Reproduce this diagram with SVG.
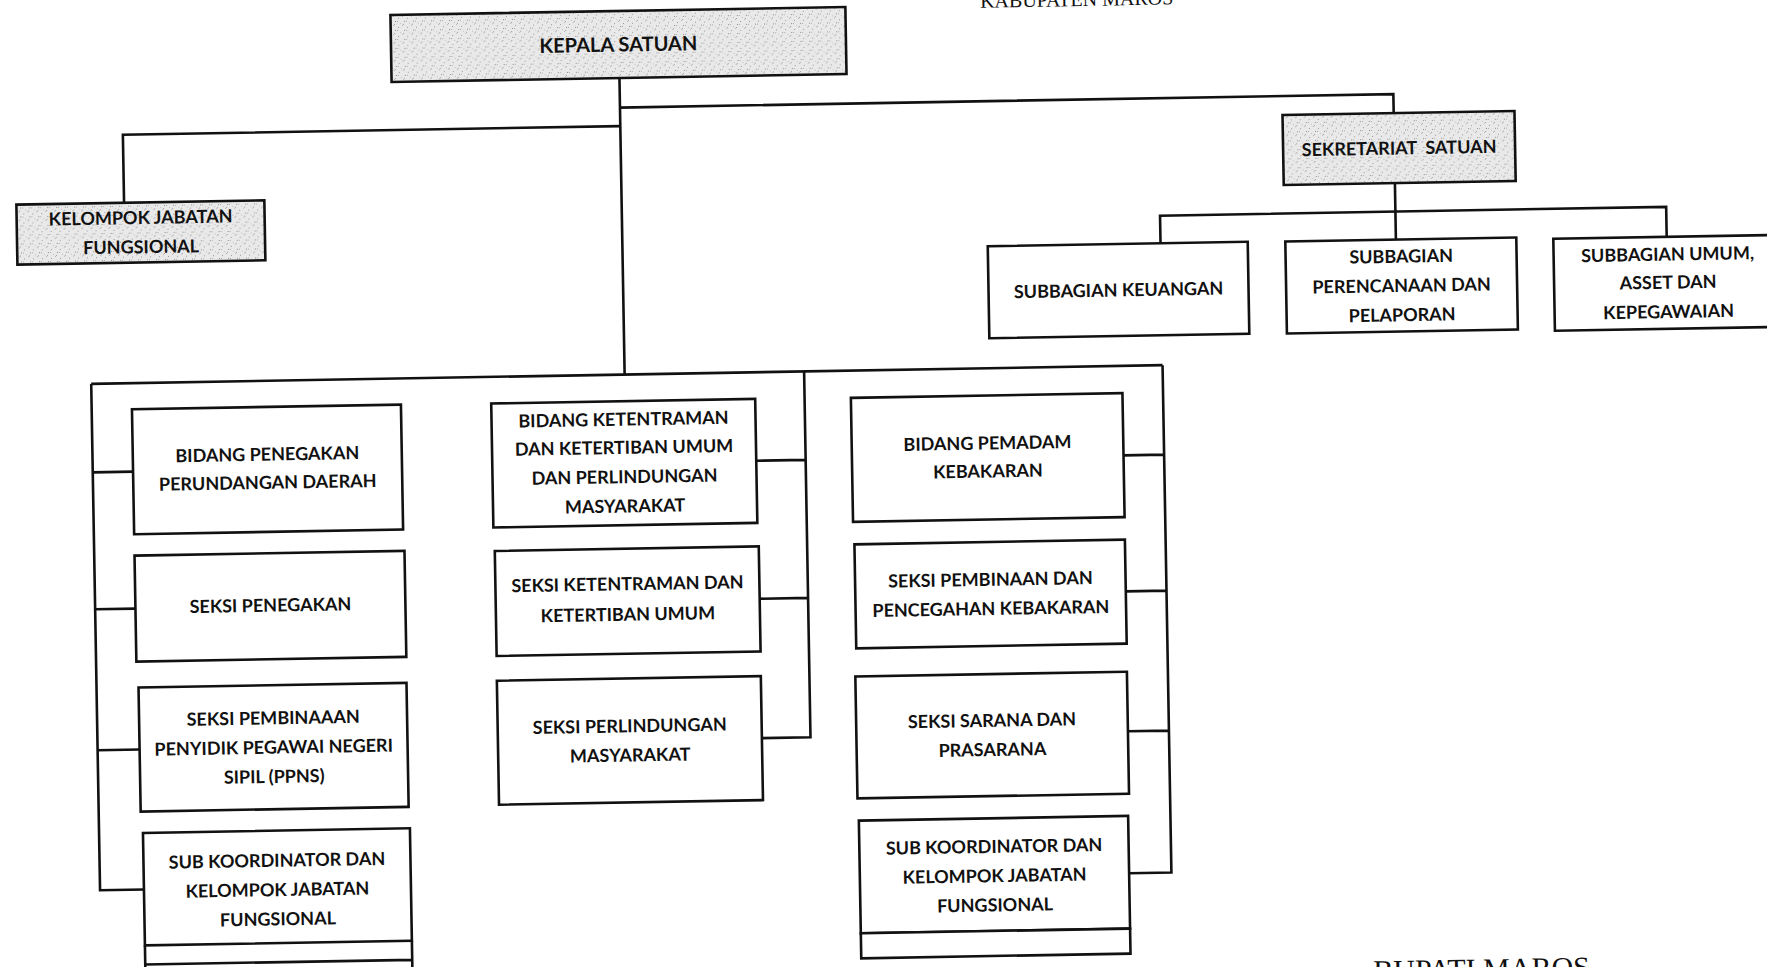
<svg xmlns="http://www.w3.org/2000/svg" width="1767" height="967" viewBox="0 0 1767 967">
<defs>
<pattern id="speckle" width="9" height="9" patternUnits="userSpaceOnUse">
<rect width="9" height="9" fill="#e9e9e9"/>
<rect x="1" y="2" width="1" height="1" fill="#9a9a9a"/>
<rect x="5" y="0" width="1" height="1" fill="#b5b5b5"/>
<rect x="7" y="5" width="1" height="1" fill="#8f8f8f"/>
<rect x="3" y="7" width="1" height="1" fill="#c0c0c0"/>
<rect x="0" y="5" width="1" height="1" fill="#aaaaaa"/>
<rect x="6" y="8" width="1" height="1" fill="#a0a0a0"/>
</pattern>
<style>
.box{fill:#ffffff;stroke:#111111;stroke-width:2.6}
.shade{fill:url(#speckle);stroke:#111111;stroke-width:2.6}
.lbl{font-family:Lato,"Open Sans","Liberation Sans",sans-serif;font-weight:700;font-size:18px;fill:#111111;text-anchor:middle}
.big{font-size:20px}
.serif{font-family:"Liberation Serif","DejaVu Serif",serif;fill:#111111;text-anchor:middle}
.con{fill:none;stroke:#111111;stroke-width:2.6}
</style>
</defs>
<rect width="1767" height="967" fill="#ffffff"/>
<g transform="rotate(-1 800 480)">
<text class="serif" x="1085" y="11" font-size="20">KABUPATEN MAROS</text>
<text class="serif" x="1473" y="991" font-size="30">BUPATI MAROS</text>

<g id="connectors">
<path class="con" d="M626.5 74.9 V371.5"/>
<path class="con" d="M626.5 104.5 H1400 V123.5"/>
<path class="con" d="M626.5 123 H129 V191"/>
<path class="con" d="M1400 193.5 V250"/>
<path class="con" d="M1164.6 249.6 V222 H1670.8 V252"/>
<path class="con" d="M93 371.5 H1164.5"/>
<path class="con" d="M93 371.5 V878 H136.9"/>
<path class="con" d="M93 460 H133.3 M93 597 H133.3 M93 738 H135"/>
<path class="con" d="M806 371.5 V737.4 H757.4 M756.6 460 H806 M757.6 598 H806"/>
<path class="con" d="M1164.5 371.5 V879 H1122.2 M1123.9 461 H1164.5 M1123.8 597 H1164.5 M1123.5 737 H1164.5"/>
</g>

<g id="kepala-satuan">
<rect class="shade" x="398.6" y="7.9" width="455" height="67"/>
<text class="lbl big" x="626" y="48.5">KEPALA SATUAN</text>
</g>

<g id="kelompok-jabatan-fungsional">
<rect class="shade" x="21.3" y="191" width="248" height="60"/>
<text class="lbl" x="145.3" y="212.5">KELOMPOK JABATAN</text>
<text class="lbl" x="145.3" y="241.8">FUNGSIONAL</text>
</g>

<g id="sekretariat-satuan">
<rect class="shade" x="1288.8" y="123.5" width="232" height="70"/>
<text class="lbl" x="1404.8" y="165" style="white-space:pre">SEKRETARIAT  SATUAN</text>
</g>

<g id="subbagian-keuangan">
<rect class="box" x="991.8" y="249.6" width="260" height="92"/>
<text class="lbl" x="1121.8" y="302">SUBBAGIAN KEUANGAN</text>
</g>

<g id="subbagian-perencanaan">
<rect class="box" x="1289.4" y="250" width="231" height="92"/>
<text class="lbl" x="1404.9" y="273.2">SUBBAGIAN</text>
<text class="lbl" x="1404.9" y="302.5">PERENCANAAN DAN</text>
<text class="lbl" x="1404.9" y="331.8">PELAPORAN</text>
</g>

<g id="subbagian-umum">
<rect class="box" x="1557.4" y="252" width="228" height="92"/>
<text class="lbl" x="1671.4" y="275.8">SUBBAGIAN UMUM,</text>
<text class="lbl" x="1671.4" y="303.9">ASSET DAN</text>
<text class="lbl" x="1671.4" y="333.2">KEPEGAWAIAN</text>
</g>

<g id="bidang-penegakan">
<rect class="box" x="133.3" y="397.6" width="269" height="125"/>
<text class="lbl" x="267.8" y="451.4">BIDANG PENEGAKAN</text>
<text class="lbl" x="267.8" y="479.6">PERUNDANGAN DAERAH</text>
</g>

<g id="seksi-penegakan">
<rect class="box" x="133.3" y="544" width="270" height="106"/>
<text class="lbl" x="268.3" y="602.4">SEKSI PENEGAKAN</text>
</g>

<g id="seksi-pembinaaan-ppns">
<rect class="box" x="135" y="676" width="268" height="124"/>
<text class="lbl" x="269.1" y="715.1">SEKSI PEMBINAAAN</text>
<text class="lbl" x="269.1" y="744.4">PENYIDIK PEGAWAI NEGERI</text>
<text class="lbl" x="269.1" y="773.7">SIPIL (PPNS)</text>
</g>

<g id="sub-koordinator-kiri">
<rect class="box" x="136.9" y="821.4" width="267" height="112.5"/>
<path class="con" d="M136.9 933.9 V975 M403.9 933.9 V975 M136.9 953 H403.9"/>
<text class="lbl" x="270.4" y="857.6">SUB KOORDINATOR DAN</text>
<text class="lbl" x="270.4" y="886.9">KELOMPOK JABATAN</text>
<text class="lbl" x="270.4" y="916.2">FUNGSIONAL</text>
</g>

<g id="bidang-ketentraman">
<rect class="box" x="492.6" y="398.1" width="264" height="124"/>
<text class="lbl" x="624.6" y="422.6">BIDANG KETENTRAMAN</text>
<text class="lbl" x="624.6" y="450.8">DAN KETERTIBAN UMUM</text>
<text class="lbl" x="624.6" y="480.1">DAN PERLINDUNGAN</text>
<text class="lbl" x="624.6" y="509.4">MASYARAKAT</text>
</g>

<g id="seksi-ketentraman">
<rect class="box" x="493.6" y="545.7" width="264" height="105"/>
<text class="lbl" x="625.6" y="587.2">SEKSI KETENTRAMAN DAN</text>
<text class="lbl" x="625.6" y="617.7">KETERTIBAN UMUM</text>
</g>

<g id="seksi-perlindungan">
<rect class="box" x="493.4" y="675.4" width="264" height="124"/>
<text class="lbl" x="625.4" y="729.3">SEKSI PERLINDUNGAN</text>
<text class="lbl" x="625.4" y="758.5">MASYARAKAT</text>
</g>

<g id="bidang-pemadam">
<rect class="box" x="852.3" y="398.8" width="271.6" height="124"/>
<text class="lbl" x="988.1" y="452.7">BIDANG PEMADAM</text>
<text class="lbl" x="988.1" y="480.8">KEBAKARAN</text>
</g>

<g id="seksi-pembinaan-pencegahan">
<rect class="box" x="853.3" y="545.3" width="270.5" height="104"/>
<text class="lbl" x="988.6" y="589.1">SEKSI PEMBINAAN DAN</text>
<text class="lbl" x="988.6" y="618.3">PENCEGAHAN KEBAKARAN</text>
</g>

<g id="seksi-sarana">
<rect class="box" x="851.9" y="677.4" width="271.6" height="122"/>
<text class="lbl" x="987.7" y="730.1">SEKSI SARANA DAN</text>
<text class="lbl" x="987.7" y="759.3">PRASARANA</text>
</g>

<g id="sub-koordinator-kanan">
<rect class="box" x="852.9" y="821.6" width="269.3" height="112.7"/>
<rect class="box" x="852.9" y="934.3" width="269.3" height="25"/>
<text class="lbl" x="987.6" y="856.2">SUB KOORDINATOR DAN</text>
<text class="lbl" x="987.6" y="885.5">KELOMPOK JABATAN</text>
<text class="lbl" x="987.6" y="914.8">FUNGSIONAL</text>
</g>
</g>
</svg>
